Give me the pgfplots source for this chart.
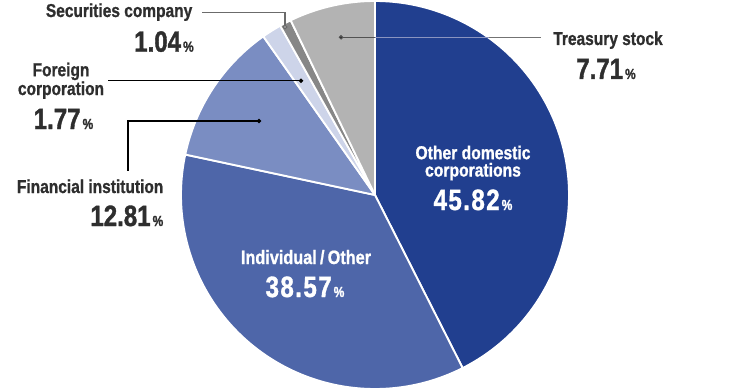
\documentclass[border=0pt]{standalone}
\usepackage{pgfplots}
\usepackage{pgfplotstable}
\pgfplotsset{compat=1.18}
\usepackage{fontspec}
\setmainfont{Liberation Sans}
\newfontfamily\labfont{Liberation Sans}[FakeStretch=0.83,FakeBold=1.0]
\newfontfamily\labwfont{Liberation Sans}[FakeStretch=0.84,FakeBold=1.0]
\newfontfamily\numfont{Liberation Sans}[FakeStretch=0.82,FakeBold=1.2]
\newfontfamily\numwfont{Liberation Sans}[FakeStretch=0.82,LetterSpace=5,FakeBold=1.2]

\definecolor{cA}{HTML}{213F8F}
\definecolor{cB}{HTML}{4E66A9}
\definecolor{cC}{HTML}{7A8DC2}
\definecolor{cD}{HTML}{CDD4E9}
\definecolor{cE}{HTML}{878787}
\definecolor{cF}{HTML}{B3B3B3}
\definecolor{cL}{HTML}{8A94C0}
\definecolor{txt}{HTML}{2E2E2E}

% shareholder composition (%)
\pgfplotstableread{
label value
OtherDomestic 45.82
Individual 38.57
Financial 12.81
Foreign 1.77
Securities 1.04
Treasury 7.71
}\shares

\pgfplotstablegetelem{0}{value}\of\shares \let\vA\pgfplotsretval
\pgfplotstablegetelem{1}{value}\of\shares \let\vB\pgfplotsretval
\pgfplotstablegetelem{2}{value}\of\shares \let\vC\pgfplotsretval
\pgfplotstablegetelem{3}{value}\of\shares \let\vD\pgfplotsretval
\pgfplotstablegetelem{4}{value}\of\shares \let\vE\pgfplotsretval
\pgfplotstablegetelem{5}{value}\of\shares \let\vF\pgfplotsretval
\pgfmathsetmacro\tot{\vA+\vB+\vC+\vD+\vE+\vF}
\pgfmathsetmacro\aA{90}
\pgfmathsetmacro\aB{\aA-\vA/\tot*360}
\pgfmathsetmacro\aC{\aB-\vB/\tot*360}
\pgfmathsetmacro\aD{\aC-\vC/\tot*360}
\pgfmathsetmacro\aE{\aD-\vD/\tot*360}
\pgfmathsetmacro\aF{\aE-\vE/\tot*360}
\pgfmathsetmacro\aG{\aF-\vF/\tot*360}
\def\R{194}

\newcommand\slice[3]{%
  \addplot[fill=#3, draw=white, line width=1.4pt, line join=round,
    domain=#2:#1, samples=120]
    ({375+\R*cos(x)},{195+\R*sin(x)}) -- (axis cs:375,195) -- cycle;}

\newcommand\pct{\hspace{1.5pt}{\fontsize{11}{11}\selectfont\%}}

\begin{document}
\begin{tikzpicture}
\begin{axis}[
  scale only axis, width=562.5pt, height=292.5pt,
  xmin=0, xmax=750, ymin=0, ymax=390,
  hide axis, clip=false,
  every node/.append style={inner sep=0pt, outer sep=0pt},
]
\slice{\aA}{\aB}{cA}
\slice{\aB}{\aC}{cB}
\slice{\aC}{\aD}{cC}
\slice{\aD}{\aE}{cD}
\slice{\aE}{\aF}{cE}
\slice{\aF}{\aG}{cF}

% leader lines
\addplot[color=black!58, line width=0.9pt, mark=*, mark indices={3},
  mark size=1.3pt, mark options={fill=white, draw=none}]
  coordinates {(202,377.5) (285,377.5) (285,363)};
\addplot[color=black, line width=0.8pt, mark=*, mark indices={1},
  mark size=1.2pt] coordinates {(301,309.3) (108,309.3)};
\addplot[color=black, line width=0.8pt, mark=*, mark indices={1},
  mark size=1.2pt] coordinates {(259,269) (128,269) (128,219)};
\addplot[color=black!68, line width=0.9pt, mark=*, mark indices={1},
  mark size=1.2pt, mark options={fill=black, draw=none}]
  coordinates {(341,352.7) (375,352.7)};
\addplot[color=cL, line width=0.9pt] coordinates {(375,352.7) (489,352.7)};
\addplot[color=black!55, line width=0.9pt] coordinates {(489,352.7) (541,352.7)};

% outside labels
\begin{scope}[every node/.append style={text=txt}]
\node[anchor=base east, font={\labfont\bfseries\fontsize{14}{16}\selectfont}] at (axis cs:197,373) {Securities company};
\node[anchor=base, font={\numfont\bfseries\fontsize{22}{22}\selectfont}] at (axis cs:164,338.3) {1.04\pct};

\node[anchor=base, align=center, font={\labfont\bfseries\fontsize{14}{12}\selectfont}] at (axis cs:61,295) {Foreign\\corporation};
\node[anchor=base, font={\numfont\bfseries\fontsize{22}{22}\selectfont}] at (axis cs:63.5,261) {1.77\pct};

\node[anchor=base east, font={\labfont\bfseries\fontsize{14}{16}\selectfont}] at (axis cs:168,197) {Financial institution};
\node[anchor=base east, font={\numfont\bfseries\fontsize{22}{22}\selectfont}] at (axis cs:168,164) {12.81\pct};

\node[anchor=base, font={\labfont\bfseries\fontsize{14}{16}\selectfont}] at (axis cs:608,345) {Treasury stock};
\node[anchor=base, font={\numfont\bfseries\fontsize{22}{22}\selectfont}] at (axis cs:606,311) {7.71\pct};
\end{scope}

% inside labels
\begin{scope}[every node/.append style={text=white}]
\node[anchor=base, align=center, font={\labwfont\bfseries\fontsize{14}{13}\selectfont}] at (axis cs:473,213.5) {Other domestic\\corporations};
\node[anchor=base, font={\numwfont\bfseries\fontsize{22}{22}\selectfont}] at (axis cs:473,180) {45.82\pct};

\node[anchor=base, font={\labwfont\bfseries\fontsize{14.5}{16}\selectfont}] at (axis cs:306,126) {Individual\,/\,Other};
\node[anchor=base, font={\numwfont\bfseries\fontsize{22}{22}\selectfont}] at (axis cs:305,93) {38.57\pct};
\end{scope}
\end{axis}
\pgfresetboundingbox
\path (current axis.south west) rectangle (current axis.north east);
\end{tikzpicture}
\end{document}
